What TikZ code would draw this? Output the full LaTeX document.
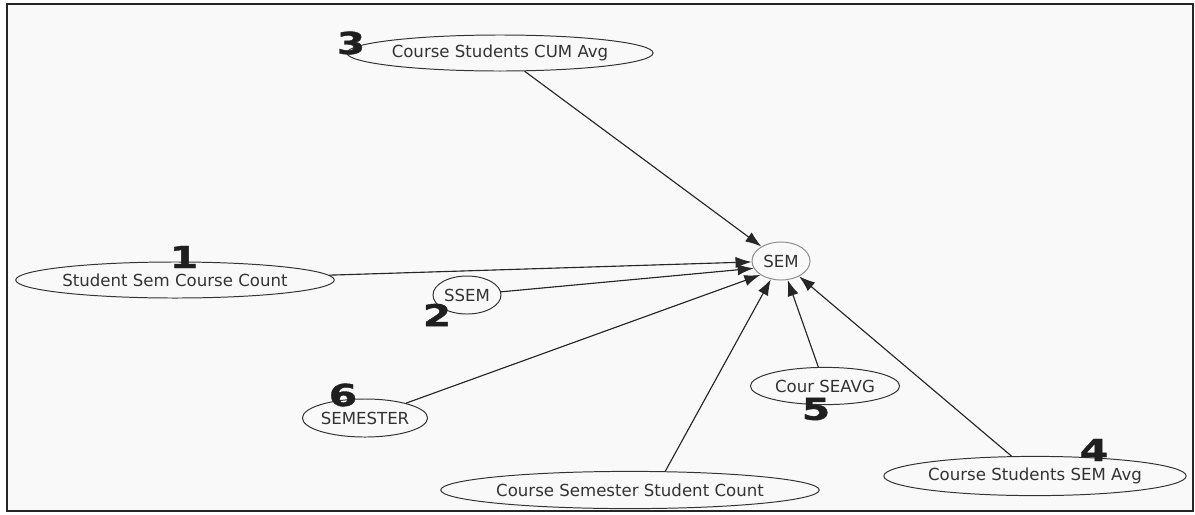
\documentclass[tikz,border=0pt]{standalone}
\usepackage{fontspec}
\setmainfont{DejaVu Sans}
\newfontfamily\numfont{DejaVu Sans Bold}[FakeStretch=1.35,FakeBold=1.2]
\usepackage{tikz}
\usetikzlibrary{shapes.geometric,arrows.meta}
\definecolor{paper}{RGB}{249,249,249}
\definecolor{inkgray}{RGB}{51,51,51}
\definecolor{hubgray}{RGB}{140,140,140}

\begin{document}
\begin{tikzpicture}[x=0.025cm,y=-0.025cm,
  attr/.style={draw=inkgray,fill=paper,ellipse,inner sep=0pt,line width=0.7pt,text=inkgray,font=\fontsize{11.8}{14}\selectfont},
  hub/.style={attr,draw=hubgray},
  num/.style={inner sep=0pt,text=black!88,font=\fontsize{21.5}{22}\numfont},
  link/.style={line width=0.8pt,draw=black!85,fill=black!85,-{Latex[length=4mm,width=2.8mm]}}]
\useasboundingbox (0,0) rectangle (1195,514);
\draw [fill=paper,line width=1.2pt,draw=black!85] (7,4) rectangle (1193,511);

\node [hub, minimum width=1.45cm, minimum height=0.95cm] (sem) at (781,261) {SEM};
\node [attr, minimum width=7.5cm, minimum height=0.9cm] (cumavg) at (500,53) {Course Students CUM Avg};
\node [attr, minimum width=7.83cm, minimum height=0.9cm] (semcount) at (175,280) {Student Sem Course Count};
\node [attr, minimum width=1.7cm, minimum height=0.95cm] (ssem) at (467,295) {SSEM};
\node [attr, minimum width=3.08cm, minimum height=0.95cm] (semester) at (365,418) {SEMESTER};
\node [attr, minimum width=8.63cm, minimum height=0.93cm] (stucount) at (630,490) {Course Semester Student Count};
\node [attr, minimum width=3.73cm, minimum height=0.93cm] (seavg) at (825,386) {Cour SEAVG};
\node [attr, minimum width=7.53cm, minimum height=0.98cm] (semavg) at (1035,476) {Course Students SEM Avg};

\draw [link] (cumavg) -- (sem);
\draw [link] (semcount) -- (sem);
\draw [link] (ssem) -- (sem.195);
\draw [link] (semester) -- (sem.214);
\draw [link] (stucount.28) -- (sem.241);
\draw [link] (seavg) -- (sem);
\draw [link] (semavg) -- (sem);

\node [num] (n1) at (184,257) {1};
\node [num] (n2) at (437,315) {2};
\node [num] (n3) at (351,43) {3};
\node [num] (n4) at (1094,450) {4};
\node [num] (n5) at (816,409) {5};
\node [num] (n6) at (343,395) {6};
\end{tikzpicture}
\end{document}
